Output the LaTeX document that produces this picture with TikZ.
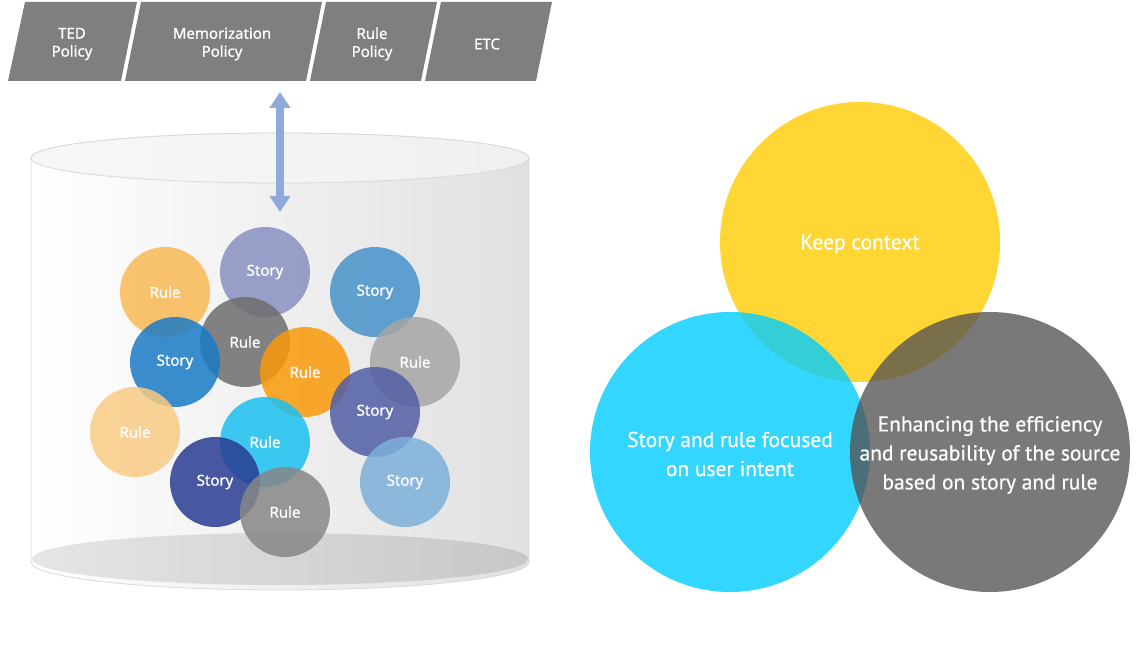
\documentclass[tikz,border=0pt]{standalone}
\usepackage{fontspec}
\setmainfont{Noto Sans}[FakeBold=0.9]
\newfontfamily\venfont{PT Sans}[FakeBold=0.6]
\usetikzlibrary{arrows.meta}
\definecolor{polgray}{HTML}{7F7F7F}
\definecolor{arrblue}{HTML}{8EAADB}
\definecolor{cyledge}{HTML}{D9D9D9}
\definecolor{cOrL}{HTML}{F9B955}
\definecolor{cLav}{HTML}{8890C0}
\definecolor{cBlu}{HTML}{4793CB}
\definecolor{cDg}{HTML}{6E6E6E}
\definecolor{cBl2}{HTML}{1A7BC6}
\definecolor{cOr}{HTML}{FA9A0A}
\definecolor{cLg}{HTML}{A6A6A6}
\definecolor{cOrP}{HTML}{F9CB85}
\definecolor{cInd}{HTML}{515EA6}
\definecolor{cCy}{HTML}{1BC0F0}
\definecolor{cNav}{HTML}{2A3C93}
\definecolor{cLb}{HTML}{7DB0DA}
\definecolor{cGr}{HTML}{878787}
\definecolor{vYel}{HTML}{FFD633}
\definecolor{vCy}{HTML}{00CCFF}
\definecolor{vGr}{HTML}{535353}
\tikzset{
  polbox/.style={fill=polgray},
  poltext/.style={text=white, align=center, font=\fontsize{15}{18}\selectfont},
  ball/.style={circle, minimum size=90pt, inner sep=0pt, fill=#1, fill opacity=0.85, text opacity=1, text=white, font=\fontsize{15}{18}\selectfont},
  venn/.style={circle, minimum size=280pt, inner sep=0pt, fill=#1},
  venntext/.style={text=white, align=center, font=\venfont\fontsize{21.5}{29}\selectfont}
}
\begin{document}
\begin{tikzpicture}[x=1pt,y=-1pt]
\useasboundingbox (0,0) rectangle (1140,652);
% policy bar
\fill[polbox] (25,2) -- (137,2) -- (121,81) -- (8,81) -- cycle;
\fill[polbox] (141,2) -- (322,2) -- (306,81) -- (125,81) -- cycle;
\fill[polbox] (326,2) -- (437,2) -- (421,81) -- (310,81) -- cycle;
\fill[polbox] (441,2) -- (552,2) -- (536,81) -- (425,81) -- cycle;
\node[poltext] (ted) at (72,44) {TED\\Policy};
\node[poltext] (mem) at (222,44) {Memorization\\Policy};
\node[poltext] (rulep) at (372,44) {Rule\\Policy};
\node[poltext] (etc) at (487,44) {ETC};
% cylinder
\path[left color=white, right color=black!12, draw=cyledge, line width=0.8pt]
  (31,158) -- (31,562) arc[start angle=180, end angle=0, x radius=249, y radius=28]
  -- (529,158) arc[start angle=0, end angle=-180, x radius=249, y radius=25] -- cycle;
\path[left color=black!10, right color=black!22] (280,559) ellipse[x radius=248, y radius=26];
\path[left color=black!3, right color=black!6, draw=cyledge, line width=0.8pt] (280,158) ellipse[x radius=249, y radius=25];
% arrow
\coordinate (arrTop) at (280,92);
\coordinate (arrBot) at (280,212);
\draw[arrblue, line width=8pt, {Triangle[width=20pt,length=16pt]}-{Triangle[width=20pt,length=16pt]}] (arrTop) -- (arrBot);
% balls
\node[ball=cOrL] (b1) at (165,292) {Rule};
\node[ball=cLav] (b2) at (265,272) {Story};
\node[ball=cBlu] (b3) at (375,292) {Story};
\node[ball=cDg] (b4) at (245,342) {Rule};
\node[ball=cBl2] (b5) at (175,362) {Story};
\node[ball=cOr] (b6) at (305,372) {Rule};
\node[ball=cLg] (b7) at (415,362) {Rule};
\node[ball=cOrP] (b8) at (135,432) {Rule};
\node[ball=cInd] (b9) at (375,412) {Story};
\node[ball=cCy] (b10) at (265,442) {Rule};
\node[ball=cNav] (b11) at (215,482) {Story};
\node[ball=cLb] (b12) at (405,482) {Story};
\node[ball=cGr] (b13) at (285,512) {Rule};
% venn
\node[venn=vYel] (keep) at (860,242) {};
\node[venn=vCy, fill opacity=0.8] (story) at (730,452) {};
\node[venn=vGr, fill opacity=0.775] (enh) at (990,452) {};
\node[venntext] (tkeep) at (860,244) {Keep context};
\node[venntext] (tstory) at (730,454) {Story and rule focused\\on user intent};
\node[venntext] (tenh) at (990,455) {Enhancing the efficiency\\and reusability of the source\\based on story and rule};
\end{tikzpicture}
\end{document}
